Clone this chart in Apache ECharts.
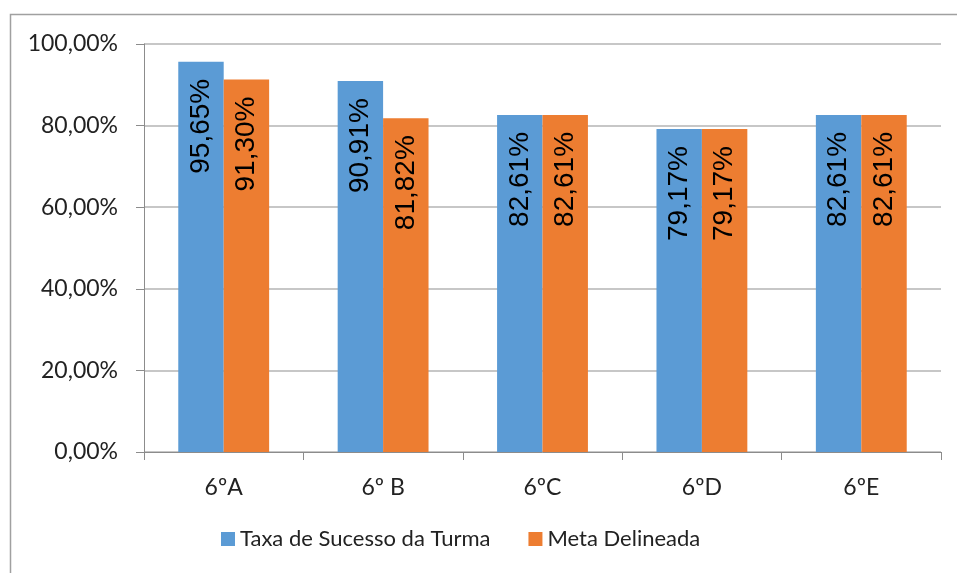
<html>
<head>
    <meta charset="UTF-8">
    <title>Taxa de Sucesso</title>
    <script src="https://cdn.jsdelivr.net/npm/echarts@6/dist/echarts.min.js"></script>
    <style>
        body{
            margin:0;
            background:#fff;
        }
        #main{
            width:957px;
            height:573px;
        }
    </style>
</head>
<body>
<div id="main"></div>

<script>
    const turmas = ['6ºA', '6º B', '6ºC', '6ºD', '6ºE'];
    const taxaSucesso = [95.65, 90.91, 82.61, 79.17, 82.61];
    const metaDelineada = [91.30, 81.82, 82.61, 79.17, 82.61];
    const serieNomes = ['Taxa de Sucesso da Turma', 'Meta Delineada'];

    function pct(v) {
        return v.toFixed(2).replace('.', ',') + '%';
    }

    let myChart = echarts.init(document.getElementById('main'), null, {renderer: 'canvas'});

    // rótulo girado dentro da barra, perto do topo
    const rotulo = {
        show: true,
        position: 'insideTop',
        rotate: 90,
        align: 'right',
        verticalAlign: 'middle',
        distance: 17,
        fontFamily: 'Liberation Sans, Arial, sans-serif',
        fontSize: 28,
        color: '#000',
        formatter: function (p) { return pct(p.value); }
    };

    let option = {
        animation: false,
        textStyle: {fontFamily: 'Lato, sans-serif'},
        graphic: [{
            type: 'rect',
            shape: {x: 10.5, y: 14.5, width: 960, height: 600},
            style: {fill: 'none', stroke: '#a0a0a0', lineWidth: 1.5},
            silent: true
        }],
        grid: {left: 144, right: 16, top: 44, bottom: 121},
        legend: {
            data: serieNomes,
            bottom: 18,
            left: 216,
            itemWidth: 14,
            itemHeight: 14,
            itemGap: 38,
            icon: 'rect',
            textStyle: {fontSize: 22, color: '#222', fontFamily: 'Lato, sans-serif'}
        },
        xAxis: {
            type: 'category',
            data: turmas,
            axisLine: {lineStyle: {color: '#8c8c8c', width: 1}},
            axisTick: {show: true, length: 8, alignWithLabel: false, lineStyle: {color: '#8c8c8c'}},
            axisLabel: {fontSize: 23, color: '#222', margin: 24, fontFamily: 'Lato, sans-serif'}
        },
        yAxis: {
            type: 'value',
            min: 0,
            max: 100,
            interval: 20,
            axisLine: {show: true, lineStyle: {color: '#8c8c8c', width: 1}},
            axisTick: {show: true, length: 8, lineStyle: {color: '#8c8c8c'}},
            splitLine: {lineStyle: {color: '#b4b4b4', width: 1.5}},
            axisLabel: {
                fontSize: 23,
                color: '#222',
                margin: 26,
                fontFamily: 'Lato, sans-serif',
                formatter: function (v) { return pct(v); }
            }
        },
        series: [
            {
                name: serieNomes[0],
                type: 'bar',
                data: taxaSucesso,
                barGap: '0%',
                barCategoryGap: '43%',
                itemStyle: {color: '#5b9bd5'},
                label: rotulo
            },
            {
                name: serieNomes[1],
                type: 'bar',
                data: metaDelineada,
                itemStyle: {color: '#ed7d31'},
                label: rotulo
            }
        ]
    };

    myChart.setOption(option);
</script>
</body>
</html>
